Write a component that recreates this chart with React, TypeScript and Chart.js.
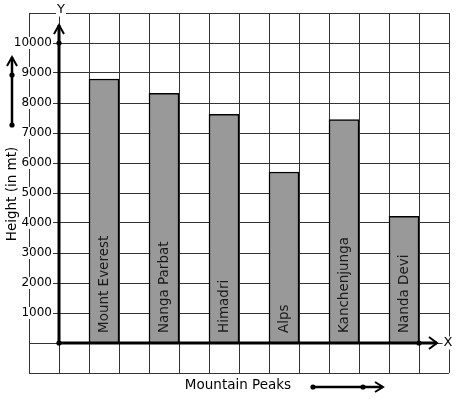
import React, { useEffect, useRef } from "react";
import { Chart, registerables } from "chart.js";

Chart.register(...registerables);

const peaks = ["Mount Everest", "Nanga Parbat", "Himadri", "Alps", "Kanchenjunga", "Nanda Devi"];
const heights = [8800, 8320, 7620, 5700, 7450, 4220];
const yTicks = [1000, 2000, 3000, 4000, 5000, 6000, 7000, 8000, 9000, 10000];
const columnCount = 14;
const firstBarColumn = 2;
const yTitle = "Height (in mt)";
const xTitle = "Mountain Peaks";

const FONT = "DejaVu Sans";

const columnLabels: string[] = Array.from({ length: columnCount }, () => "");
const columnValues: (number | null)[] = Array.from({ length: columnCount }, () => null);
peaks.forEach((p, i) => {
  columnLabels[firstBarColumn + i * 2] = p;
  columnValues[firstBarColumn + i * 2] = heights[i];
});

function dot(ctx: CanvasRenderingContext2D, x: number, y: number, r = 2.6) {
  ctx.beginPath();
  ctx.arc(x, y, r, 0, Math.PI * 2);
  ctx.fillStyle = "#000";
  ctx.fill();
}

function textWithBg(ctx: CanvasRenderingContext2D, s: string, x: number, y: number, align: CanvasTextAlign, size: number) {
  ctx.font = `${size}px "${FONT}"`;
  ctx.textAlign = align;
  ctx.textBaseline = "middle";
  const w = ctx.measureText(s).width;
  let left = x;
  if (align === "right") left = x - w;
  else if (align === "center") left = x - w / 2;
  ctx.fillStyle = "#fff";
  ctx.fillRect(left - 1, y - size / 2, w + 2, size);
  ctx.fillStyle = "#000";
  ctx.fillText(s, x, y);
}

const overlay = {
  id: "overlay",
  afterDraw(chart: any) {
    const ctx: CanvasRenderingContext2D = chart.ctx;
    const xs = chart.scales.x;
    const ys = chart.scales.y;
    const y0 = ys.getPixelForValue(0);
    const axisX = (xs.getPixelForValue(0) + xs.getPixelForValue(1)) / 2;
    const endX = (xs.getPixelForValue(columnCount - 2) + xs.getPixelForValue(columnCount - 1)) / 2;
    const area = chart.chartArea;
    ctx.save();

    // bar labels
    const meta = chart.getDatasetMeta(0);
    meta.data.forEach((bar: any, i: number) => {
      const lbl = columnLabels[i];
      if (!lbl || columnValues[i] == null) return;
      ctx.save();
      ctx.translate(bar.x, y0 - 10);
      ctx.rotate(-Math.PI / 2);
      ctx.font = `13.5px "${FONT}"`;
      ctx.textAlign = "left";
      ctx.textBaseline = "middle";
      ctx.fillStyle = "#1a1a1a";
      ctx.fillText(lbl, 0, 0);
      ctx.restore();
    });

    // y tick labels
    yTicks.forEach((v) => {
      textWithBg(ctx, String(v), axisX - 7, ys.getPixelForValue(v), "right", 12);
    });

    ctx.strokeStyle = "#000";
    ctx.lineCap = "butt";
    // y axis
    const yTop = ys.getPixelForValue(10600);
    ctx.lineWidth = 3;
    ctx.beginPath();
    ctx.moveTo(axisX, y0);
    ctx.lineTo(axisX, yTop);
    ctx.stroke();
    ctx.lineWidth = 2;
    ctx.beginPath();
    ctx.moveTo(axisX - 5, yTop + 9);
    ctx.lineTo(axisX, yTop);
    ctx.lineTo(axisX + 5, yTop + 9);
    ctx.stroke();

    // x axis
    const xEnd = endX + 18;
    ctx.lineWidth = 3;
    ctx.beginPath();
    ctx.moveTo(axisX, y0);
    ctx.lineTo(xEnd, y0);
    ctx.stroke();
    ctx.lineWidth = 2;
    ctx.beginPath();
    ctx.moveTo(xEnd - 8, y0 - 6);
    ctx.lineTo(xEnd, y0);
    ctx.lineTo(xEnd - 8, y0 + 6);
    ctx.stroke();

    dot(ctx, axisX, y0);
    dot(ctx, axisX, ys.getPixelForValue(10000));
    dot(ctx, endX, y0);

    // axis letters
    textWithBg(ctx, "Y", axisX + 2, area.top - 3, "center", 13);
    textWithBg(ctx, "X", area.right - 1, y0, "center", 13);

    // y title with arrow
    ctx.save();
    ctx.translate(12, 194);
    ctx.rotate(-Math.PI / 2);
    ctx.font = `13.5px "${FONT}"`;
    ctx.textAlign = "center";
    ctx.textBaseline = "middle";
    ctx.fillStyle = "#000";
    ctx.fillText(yTitle, 0, 0);
    ctx.restore();
    ctx.lineWidth = 2.5;
    ctx.beginPath();
    ctx.moveTo(12, 125);
    ctx.lineTo(12, 57);
    ctx.stroke();
    ctx.lineWidth = 2;
    ctx.beginPath();
    ctx.moveTo(7, 66);
    ctx.lineTo(12, 57);
    ctx.lineTo(17, 66);
    ctx.stroke();
    dot(ctx, 12, 75);
    dot(ctx, 12, 125);

    // x title with arrow
    ctx.font = `13.5px "${FONT}"`;
    ctx.textAlign = "center";
    ctx.textBaseline = "middle";
    ctx.fillStyle = "#000";
    ctx.fillText(xTitle, 238, 385);
    ctx.lineWidth = 2.5;
    ctx.beginPath();
    ctx.moveTo(313, 387);
    ctx.lineTo(383, 387);
    ctx.stroke();
    ctx.lineWidth = 2;
    ctx.beginPath();
    ctx.moveTo(375, 382);
    ctx.lineTo(383, 387);
    ctx.lineTo(375, 392);
    ctx.stroke();
    dot(ctx, 313, 387);
    dot(ctx, 363, 387);

    ctx.restore();
  },
};

export default function App() {
  const ref = useRef<HTMLCanvasElement>(null);
  useEffect(() => {
    if (!ref.current) return;
    const chart = new Chart(ref.current, {
      type: "bar",
      data: {
        labels: columnLabels,
        datasets: [
          {
            data: columnValues,
            backgroundColor: "#999999",
            borderColor: "#000",
            borderWidth: 1.5,
            borderSkipped: "bottom",
            categoryPercentage: 1,
            barPercentage: 1,
          },
        ],
      },
      options: {
        responsive: false,
        animation: false,
        layout: { padding: { left: 29, top: 13, right: 8, bottom: 26 } },
        plugins: { legend: { display: false }, tooltip: { enabled: false }, title: { display: false } },
        scales: {
          x: {
            type: "category",
            offset: true,
            grid: { offset: true, color: "#333", lineWidth: 1, drawTicks: false },
            border: { display: false },
            ticks: { display: false },
          },
          y: {
            min: -1000,
            max: 11000,
            grid: { color: "#333", lineWidth: 1, drawTicks: false },
            border: { display: false },
            ticks: { display: false, stepSize: 1000 },
          },
        },
      },
      plugins: [overlay],
    });
    return () => chart.destroy();
  }, []);
  return (
    <div style={{ position: "fixed", left: 0, top: 0, width: 457, height: 399, background: "#fff" }}>
      <canvas ref={ref} width={457} height={399} />
    </div>
  );
}
